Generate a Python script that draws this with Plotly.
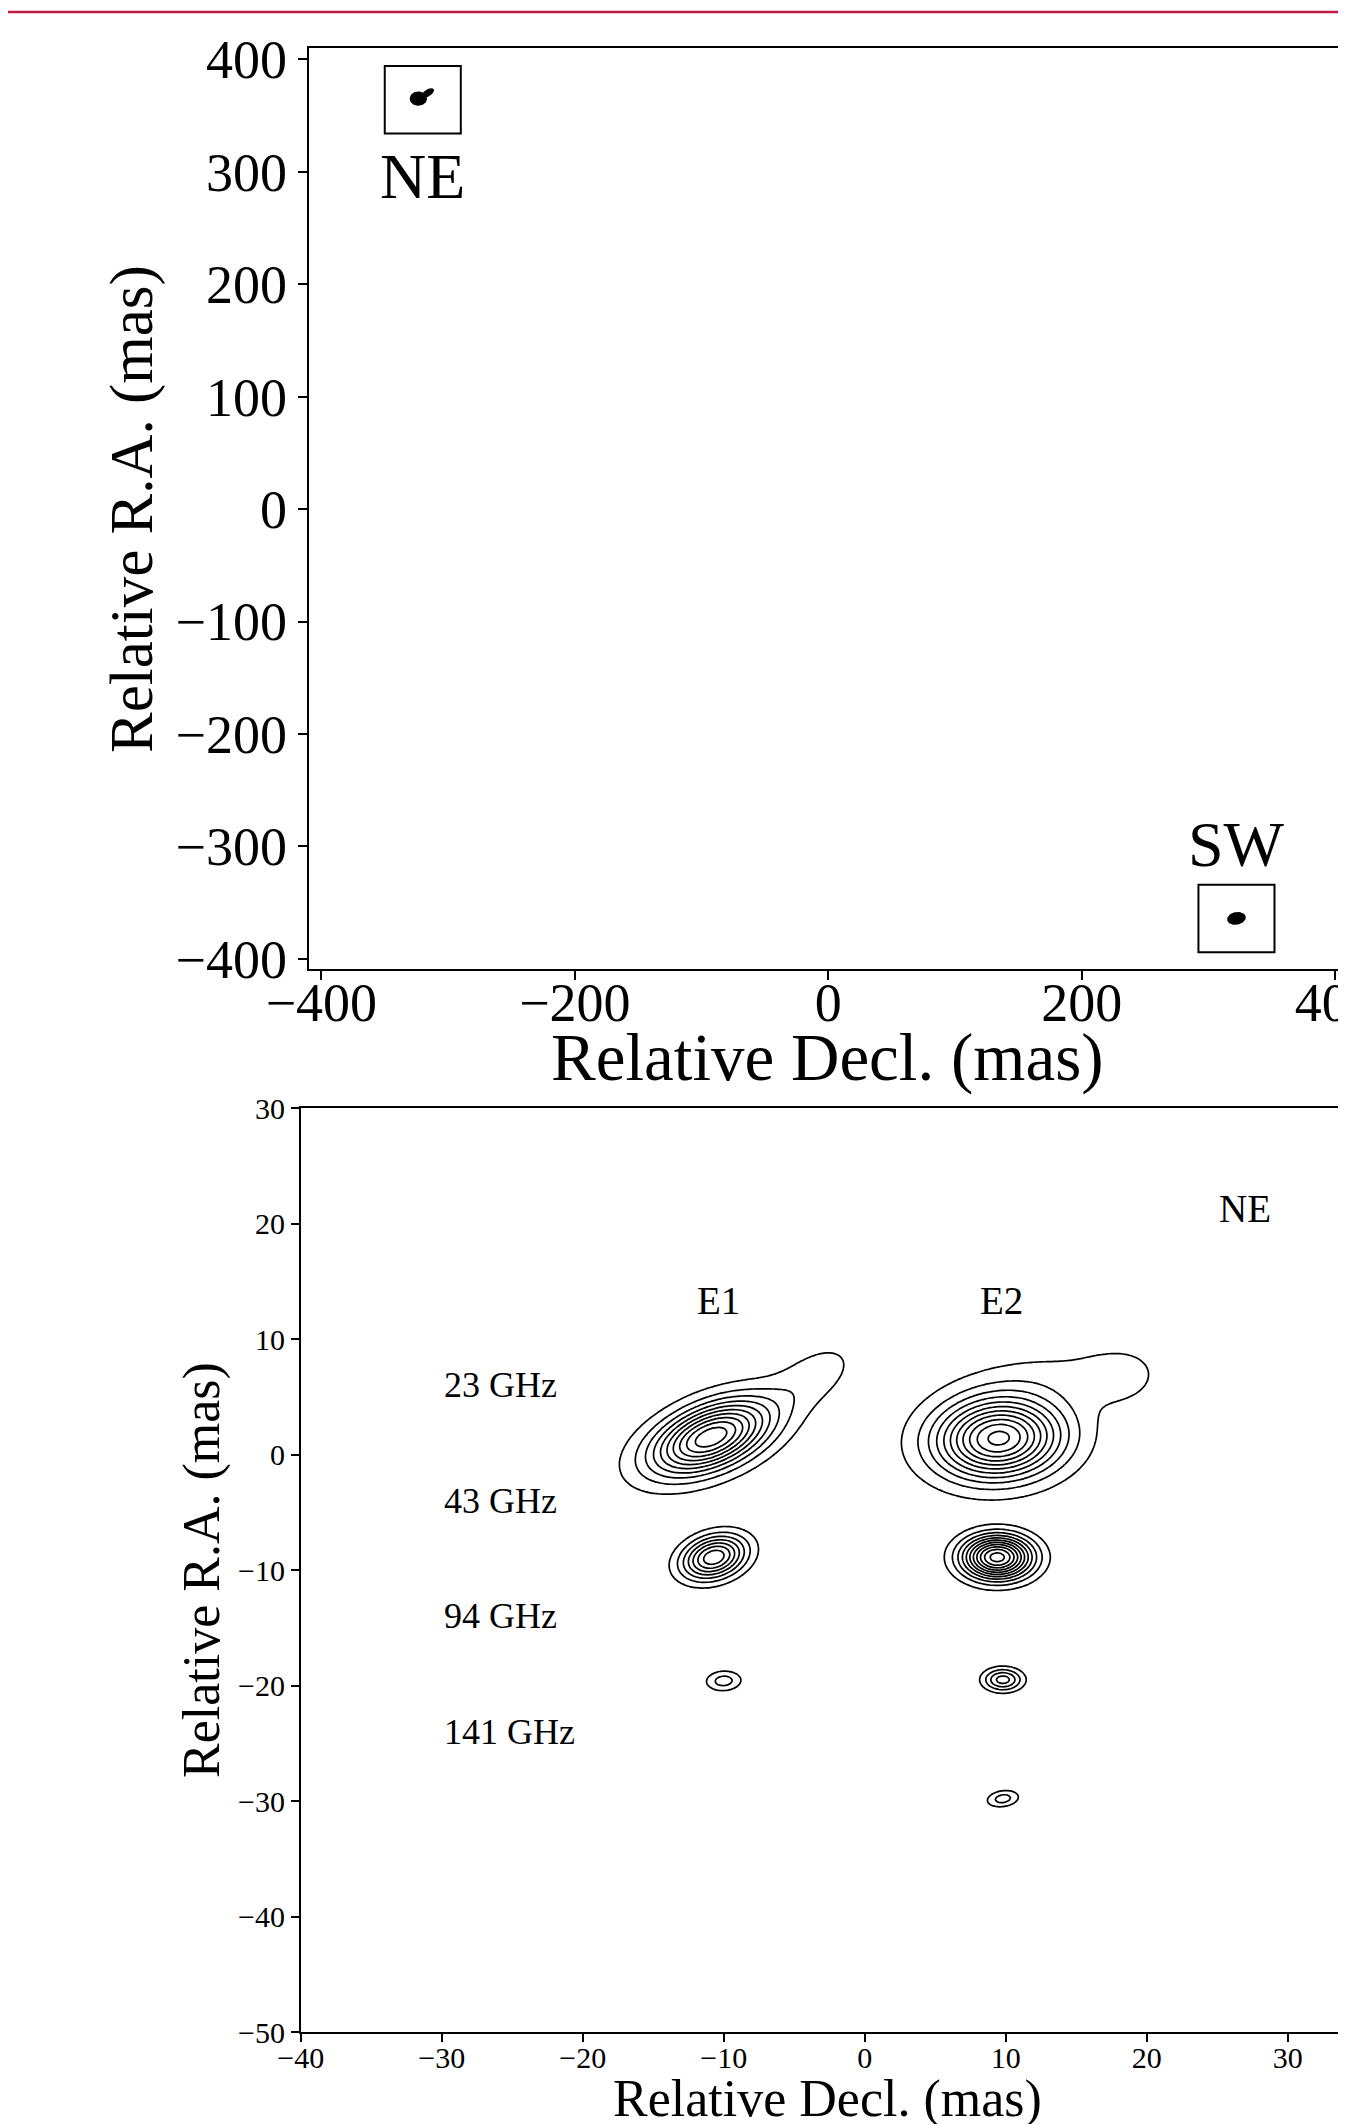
import numpy as np
import plotly.graph_objects as go

W, H = 1346, 2124
FONT = "Liberation Serif, Times New Roman, serif"

# ---------------- top panel: overview of the two regions -------------
src_names = ["NE", "SW"]
src_x = [-320, 322]          # Relative Decl. (mas)
src_y = [364, -364]          # Relative R.A. (mas)
src_label_y = [296, -298]
box_half = 30                # half size of the boxes (mas)

# small filled emission blobs shown inside the boxes
blob_x = [-323.5, -316, 322]
blob_y = [365, 370, -364]
blob_a = [6.8, 5.8, 7.5]     # semi-axes (mas)
blob_b = [6.4, 3.0, 5.6]
blob_pa = [0, 38, 15]        # deg, from +x axis

top_yticks = [-400, -300, -200, -100, 0, 100, 200, 300, 400]
top_xticks = [-400, -200, 0, 200, 400]

# ---------------- bottom panel: NE region, multi-frequency components ----------------
freqs = ["23 GHz", "43 GHz", "94 GHz", "141 GHz"]
freq_label_x = -30
freq_label_y = [6, -4, -14, -24]
freq_level_start = [0.07, 0.1, 0.1, 0.1]
freq_level_step = [0.09, 0.1, 0.1, 0.1]

comp_freq = ["23 GHz", "23 GHz", "23 GHz", "23 GHz", "23 GHz",
             "43 GHz", "43 GHz",
             "94 GHz", "94 GHz",
             "141 GHz"]
comp_x = [-10.9, -3.6, 9.5, 12.5, 18.2, -10.7, 9.4, -10.0, 9.8, 9.8]
comp_y = [1.5, 6.8, 1.4, 6.8, 6.6, -8.9, -8.9, -19.6, -19.5, -29.8]
comp_peak = [0.95, 0.11, 1.0, 0.07, 0.09, 0.78, 1.15, 0.25, 0.45, 0.25]
comp_sa = [3.13, 2.6, 3.0, 4.0, 2.2, 1.65, 1.7, 0.9, 0.95, 0.82]
comp_sb = [1.72, 1.5, 2.3, 1.8, 1.9, 1.2, 1.3, 0.62, 0.68, 0.5]
comp_pa = [30, 42, 8, 10, 20, 28, 0, 5, 0, 12]

feature_names = ["E1", "E2"]
feature_x = [-10.4, 9.7]
feature_y = [13.3, 13.3]
region_label = "NE"
region_label_xy = (27, 21.3)

bot_xticks = [-40, -30, -20, -10, 0, 10, 20, 30]
bot_yticks = [30, 20, 10, 0, -10, -20, -30, -40, -50]

x_title = "Relative Decl. (mas)"
y_title = "Relative R.A. (mas)"


def fmt(v):
    return ("\u2212" + str(abs(v))) if v < 0 else str(v)


fig = go.Figure()

# ---- top panel blobs
t = np.linspace(0, 2 * np.pi, 80)
for cx, cy, a, b, pa in zip(blob_x, blob_y, blob_a, blob_b, blob_pa):
    th = np.radians(pa)
    ex = cx + a * np.cos(t) * np.cos(th) - b * np.sin(t) * np.sin(th)
    ey = cy + a * np.cos(t) * np.sin(th) + b * np.sin(t) * np.cos(th)
    fig.add_trace(go.Scatter(x=ex, y=ey, mode="lines", fill="toself",
                             fillcolor="black", line=dict(width=0, color="black"),
                             hoverinfo="skip", showlegend=False,
                             xaxis="x", yaxis="y"))

# ---- bottom panel contour maps
for f, lstart, lstep in zip(freqs, freq_level_start, freq_level_step):
    idx = [i for i, cf in enumerate(comp_freq) if cf == f]
    smax = max(comp_sa[i] for i in idx)
    x_lo = min(comp_x[i] for i in idx) - 4.5 * smax
    x_hi = max(comp_x[i] for i in idx) + 4.5 * smax
    y_lo = min(comp_y[i] for i in idx) - 4.5 * smax
    y_hi = max(comp_y[i] for i in idx) + 4.5 * smax
    gx = np.arange(x_lo, x_hi, 0.2)
    gy = np.arange(y_lo, y_hi, 0.2)
    X, Y = np.meshgrid(gx, gy)
    Z = np.zeros_like(X)
    for i in idx:
        th = np.radians(comp_pa[i])
        dx = X - comp_x[i]
        dy = Y - comp_y[i]
        u = dx * np.cos(th) + dy * np.sin(th)
        v = -dx * np.sin(th) + dy * np.cos(th)
        Z += comp_peak[i] * np.exp(-0.5 * (u / comp_sa[i]) ** 2 - 0.5 * (v / comp_sb[i]) ** 2)
    zmax = Z.max()
    fig.add_trace(go.Contour(
        x=np.round(gx, 3), y=np.round(gy, 3), z=np.round(Z, 4),
        contours=dict(start=lstart, end=zmax, size=lstep, coloring="lines"),
        colorscale=[[0, "black"], [1, "black"]], showscale=False,
        line=dict(width=1.7, smoothing=1.0),
        hoverinfo="skip", xaxis="x2", yaxis="y2", name=f))

# ---- layout geometry (pixels -> paper)
top_dom_x = [300.7 / W, 1340 / W]
top_dom_y = [1 - 961 / H, 1 - 40 / H]
bot_dom_x = [292.7 / W, 1.0]
bot_dom_y = [1 - 2024 / H, 1 - 1100 / H]

shapes = []
for cx, cy in zip(src_x, src_y):
    shapes.append(dict(type="rect", xref="x", yref="y",
                       x0=cx - box_half, x1=cx + box_half,
                       y0=cy - box_half, y1=cy + box_half,
                       line=dict(color="black", width=2)))
# decorative red rule at the top of the page
shapes.append(dict(type="line", xref="paper", yref="paper", x0=0, x1=1,
                   y0=1 - 4 / H, y1=1 - 4 / H,
                   line=dict(color="#c01a44", width=2.5)))

annotations = []
for name, cx, ly in zip(src_names, src_x, src_label_y):
    annotations.append(dict(x=cx, y=ly, xref="x", yref="y", text=name, showarrow=False,
                            font=dict(family=FONT, size=64, color="black"),
                            xanchor="center", yanchor="middle"))
for name, fx, fy in zip(feature_names, feature_x, feature_y):
    annotations.append(dict(x=fx, y=fy, xref="x2", yref="y2", text=name, showarrow=False,
                            font=dict(family=FONT, size=39, color="black"),
                            xanchor="center", yanchor="middle"))
annotations.append(dict(x=region_label_xy[0], y=region_label_xy[1], xref="x2", yref="y2",
                        text=region_label, showarrow=False,
                        font=dict(family=FONT, size=39, color="black"),
                        xanchor="center", yanchor="middle"))
for f, fy in zip(freqs, freq_label_y):
    annotations.append(dict(x=freq_label_x, y=fy, xref="x2", yref="y2", text=f, showarrow=False,
                            font=dict(family=FONT, size=36, color="black"),
                            xanchor="left", yanchor="middle"))

# axis titles (placed in paper coordinates)
axis_titles = [
    (x_title, 820 / W, 1 - 1050 / H, 0, 67),
    (y_title, 124 / W, 1 - 501 / H, -90, 61),
    (x_title, 820 / W, 1 - 2091 / H, 0, 52),
    (y_title, 194 / W, 1 - 1562 / H, -90, 52),
]
for txt, px, py, ang, fs in axis_titles:
    annotations.append(dict(x=px, y=py, xref="paper", yref="paper", text=txt,
                            showarrow=False, textangle=ang,
                            font=dict(family=FONT, size=fs, color="black"),
                            xanchor="center", yanchor="middle"))

axis_common = dict(showgrid=False, zeroline=False, linecolor="black", ticks="outside",
                   tickcolor="black", showline=True, ticklabeloverflow="allow")

fig.update_layout(
    width=W, height=H,
    margin=dict(l=0, r=0, t=0, b=0, autoexpand=False),
    paper_bgcolor="white", plot_bgcolor="white",
    showlegend=False,
    font=dict(family=FONT, color="black"),
    xaxis=dict(domain=top_dom_x, range=[-410, 410], anchor="y", mirror=True,
               linewidth=2, tickwidth=2, ticklen=9, ticklabelstandoff=-24,
               tickvals=top_xticks, ticktext=[fmt(v) for v in top_xticks],
               tickfont=dict(family=FONT, size=54),
               **axis_common),
    yaxis=dict(domain=top_dom_y, range=[-409, 410], anchor="x", mirror=True,
               linewidth=2, tickwidth=2, ticklen=9,
               tickvals=top_yticks, ticktext=[fmt(v) for v in top_yticks],
               tickfont=dict(family=FONT, size=54),
               **axis_common),
    xaxis2=dict(domain=bot_dom_x, range=[-40, 34.7], anchor="y2", mirror=True,
                linewidth=1.6, tickwidth=1.5, ticklen=8, ticklabelstandoff=-10,
                tickvals=bot_xticks, ticktext=[fmt(v) for v in bot_xticks],
                tickfont=dict(family=FONT, size=30),
                **axis_common),
    yaxis2=dict(domain=bot_dom_y, range=[-50, 30], anchor="x2", mirror=False,
                linewidth=1.6, tickwidth=1.5, ticklen=8,
                tickvals=bot_yticks, ticktext=[fmt(v) for v in bot_yticks],
                tickfont=dict(family=FONT, size=30),
                **axis_common),
    shapes=shapes,
    annotations=annotations,
)

fig.write_html("out.html")
